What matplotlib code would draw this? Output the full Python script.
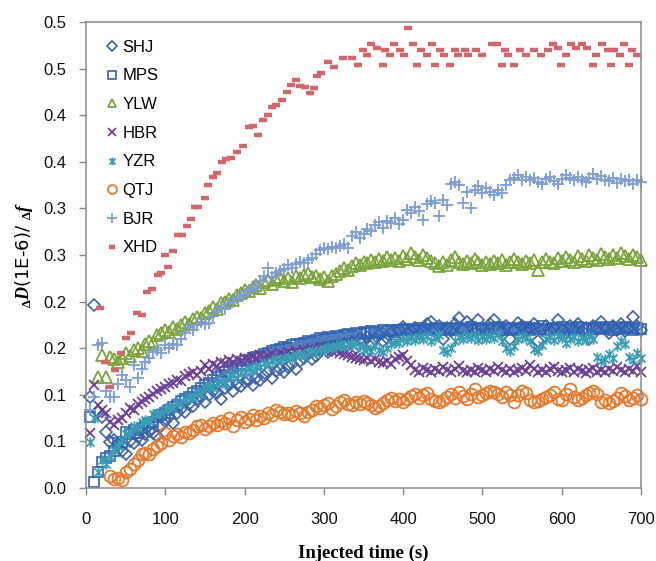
import numpy as np
import matplotlib
matplotlib.use("Agg")
import matplotlib.pyplot as plt
from matplotlib.path import Path

plt.rcParams['mathtext.fontset'] = 'custom'
plt.rcParams['mathtext.rm'] = 'Liberation Serif:bold'
plt.rcParams['mathtext.it'] = 'Liberation Serif:italic:bold'
plt.rcParams['mathtext.bf'] = 'Liberation Serif:bold'

# ---- data: dD/df ratio sampled every 5 s ----
STEP = 5

shj_start = 5
shj = [0.098, 0.196, 0.082, 0.076, 0.060, 0.049, 0.051, 0.047, 0.040, 0.037,
       0.050, 0.048, 0.055, 0.052, 0.058, 0.061, 0.059, 0.056, 0.066, 0.072,
       0.076, 0.070, 0.080, 0.085, 0.082, 0.090, 0.088, 0.094, 0.098, 0.092,
       0.100, 0.104, 0.102, 0.096, 0.107, 0.110, 0.104, 0.112, 0.109, 0.114,
       0.116, 0.111, 0.118, 0.116, 0.120, 0.124, 0.118, 0.126, 0.128, 0.125,
       0.130, 0.133, 0.128, 0.136, 0.140, 0.145, 0.138, 0.142, 0.147, 0.150,
       0.146, 0.148, 0.152, 0.149, 0.155, 0.153, 0.157, 0.150, 0.160, 0.158,
       0.162, 0.156, 0.160, 0.164, 0.158, 0.161, 0.166, 0.160, 0.170, 0.173,
       0.165, 0.168, 0.172, 0.166, 0.170, 0.176, 0.178, 0.170, 0.174, 0.160,
       0.172, 0.168, 0.176, 0.182, 0.170, 0.178, 0.174, 0.168, 0.180, 0.172,
       0.166, 0.176, 0.180, 0.172, 0.168, 0.174, 0.160, 0.170, 0.177, 0.174,
       0.168, 0.172, 0.176, 0.158, 0.170, 0.174, 0.168, 0.172, 0.180, 0.170,
       0.166, 0.174, 0.170, 0.176, 0.168, 0.172, 0.160, 0.174, 0.170, 0.178,
       0.172, 0.166, 0.174, 0.170, 0.176, 0.168, 0.172, 0.183, 0.174, 0.170]

mps_start = 5
mps = [0.076, 0.006, 0.017, 0.028, 0.032, 0.034, 0.040, 0.048, 0.049, 0.060,
       0.058, 0.062, 0.059, 0.064, 0.066, 0.070, 0.071, 0.076, 0.078, 0.080,
       0.084, 0.087, 0.089, 0.093, 0.095, 0.098, 0.102, 0.104, 0.107, 0.111,
       0.113, 0.116, 0.119, 0.121, 0.124, 0.126, 0.129, 0.131, 0.133, 0.136,
       0.137, 0.139, 0.141, 0.142, 0.144, 0.145, 0.147, 0.148, 0.149, 0.151,
       0.150, 0.153, 0.155, 0.154, 0.156, 0.158, 0.157, 0.159, 0.161, 0.160,
       0.162, 0.161, 0.163, 0.162, 0.164, 0.165, 0.163, 0.166, 0.165, 0.167,
       0.166, 0.168, 0.167, 0.166, 0.169, 0.168, 0.170, 0.167, 0.169, 0.170,
       0.171, 0.169, 0.170, 0.172, 0.170, 0.171, 0.169, 0.172, 0.171, 0.170,
       0.172, 0.171, 0.169, 0.172, 0.170, 0.171, 0.173, 0.170, 0.172, 0.171,
       0.170, 0.172, 0.171, 0.173, 0.170, 0.172, 0.171, 0.169, 0.172, 0.171,
       0.173, 0.170, 0.172, 0.171, 0.174, 0.171, 0.170, 0.172, 0.171, 0.173,
       0.170, 0.172, 0.171, 0.173, 0.172, 0.170, 0.172, 0.171, 0.173, 0.172,
       0.171, 0.173, 0.170, 0.172, 0.171, 0.173, 0.172, 0.170, 0.172, 0.171]

ylw_start = 15
ylw = [0.119, 0.143, 0.119, 0.141, 0.138, 0.135, 0.140, 0.145, 0.142, 0.148,
       0.150, 0.147, 0.155, 0.158, 0.157, 0.164, 0.166, 0.170, 0.167, 0.173,
       0.171, 0.175, 0.178, 0.176, 0.181, 0.183, 0.182, 0.188, 0.190, 0.194,
       0.192, 0.198, 0.200, 0.203, 0.202, 0.207, 0.209, 0.212, 0.211, 0.216,
       0.218, 0.215, 0.221, 0.223, 0.219, 0.224, 0.226, 0.222, 0.225, 0.221,
       0.227, 0.225, 0.229, 0.231, 0.226, 0.228, 0.224, 0.226, 0.222, 0.227,
       0.230, 0.233, 0.236, 0.234, 0.238, 0.241, 0.239, 0.243, 0.241, 0.245,
       0.243, 0.246, 0.244, 0.248, 0.245, 0.247, 0.244, 0.249, 0.246, 0.252,
       0.248, 0.245, 0.250, 0.247, 0.244, 0.241, 0.238, 0.242, 0.239, 0.245,
       0.248, 0.243, 0.240, 0.244, 0.241, 0.246, 0.242, 0.239, 0.243, 0.240,
       0.244, 0.241, 0.245, 0.239, 0.242, 0.246, 0.243, 0.240, 0.244, 0.241,
       0.245, 0.234, 0.242, 0.246, 0.243, 0.241, 0.247, 0.244, 0.248, 0.245,
       0.243, 0.249, 0.246, 0.244, 0.250, 0.247, 0.245, 0.251, 0.248, 0.246,
       0.250, 0.247, 0.252, 0.249, 0.246, 0.250, 0.248, 0.245]

hbr_start = 5
hbr = [0.059, 0.110, 0.089, 0.084, 0.080, 0.071, 0.068, 0.073, 0.075, 0.080,
       0.086, 0.084, 0.090, 0.092, 0.096, 0.098, 0.101, 0.104, 0.106, 0.108,
       0.112, 0.113, 0.116, 0.115, 0.120, 0.122, 0.124, 0.121, 0.126, 0.132,
       0.128, 0.133, 0.131, 0.135, 0.134, 0.137, 0.135, 0.138, 0.136, 0.140,
       0.138, 0.141, 0.139, 0.143, 0.140, 0.142, 0.144, 0.141, 0.145, 0.143,
       0.146, 0.144, 0.147, 0.145, 0.148, 0.146, 0.149, 0.147, 0.150, 0.148,
       0.150, 0.147, 0.149, 0.145, 0.144, 0.143, 0.141, 0.140, 0.138, 0.137,
       0.139, 0.136, 0.138, 0.135, 0.134, 0.136, 0.133, 0.138, 0.141, 0.143,
       0.136, 0.132, 0.127, 0.125, 0.129, 0.127, 0.124, 0.128, 0.126, 0.130,
       0.127, 0.125, 0.128, 0.131, 0.126, 0.124, 0.127, 0.125, 0.129, 0.127,
       0.124, 0.128, 0.126, 0.130, 0.127, 0.125, 0.128, 0.124, 0.127, 0.129,
       0.126, 0.132, 0.128, 0.125, 0.127, 0.124, 0.128, 0.130, 0.126, 0.124,
       0.127, 0.129, 0.125, 0.128, 0.126, 0.123, 0.127, 0.129, 0.125, 0.127,
       0.124, 0.128, 0.126, 0.130, 0.127, 0.124, 0.128, 0.126, 0.131, 0.125]

yzr_start = 5
yzr = [0.049, 0.075, 0.017, 0.030, 0.026, 0.034, 0.041, 0.045, 0.052, 0.058,
       0.060, 0.066, 0.064, 0.071, 0.073, 0.072, 0.079, 0.081, 0.080, 0.085,
       0.087, 0.086, 0.092, 0.090, 0.096, 0.098, 0.097, 0.103, 0.101, 0.107,
       0.109, 0.107, 0.113, 0.115, 0.112, 0.119, 0.121, 0.118, 0.125, 0.124,
       0.128, 0.126, 0.131, 0.130, 0.134, 0.133, 0.136, 0.138, 0.137, 0.140,
       0.141, 0.139, 0.143, 0.144, 0.142, 0.146, 0.147, 0.145, 0.148, 0.149,
       0.151, 0.150, 0.152, 0.154, 0.151, 0.155, 0.153, 0.156, 0.152, 0.148,
       0.150, 0.147, 0.152, 0.148, 0.146, 0.150, 0.155, 0.158, 0.156, 0.160,
       0.158, 0.161, 0.159, 0.162, 0.160, 0.163, 0.158, 0.161, 0.164, 0.148,
       0.146, 0.150, 0.158, 0.162, 0.160, 0.163, 0.161, 0.164, 0.159, 0.162,
       0.160, 0.163, 0.161, 0.165, 0.158, 0.150, 0.147, 0.152, 0.160, 0.163,
       0.161, 0.158, 0.149, 0.147, 0.153, 0.160, 0.162, 0.159, 0.163, 0.161,
       0.156, 0.160, 0.162, 0.158, 0.161, 0.159, 0.163, 0.160, 0.141, 0.136,
       0.138, 0.144, 0.140, 0.152, 0.158, 0.155, 0.141, 0.137, 0.145, 0.140]

qtj_start = 30
qtj = [0.013, 0.010, 0.011, 0.009, 0.017, 0.020, 0.026, 0.030, 0.036, 0.038,
       0.036, 0.042, 0.045, 0.048, 0.059, 0.052, 0.056, 0.058, 0.055, 0.060,
       0.059, 0.062, 0.066, 0.068, 0.063, 0.067, 0.070, 0.068, 0.072, 0.070,
       0.075, 0.066, 0.073, 0.076, 0.071, 0.074, 0.078, 0.073, 0.077, 0.075,
       0.080, 0.078, 0.084, 0.082, 0.079, 0.081, 0.078, 0.083, 0.080, 0.077,
       0.082, 0.084, 0.088, 0.086, 0.089, 0.091, 0.085, 0.088, 0.092, 0.094,
       0.090, 0.089, 0.092, 0.090, 0.093, 0.091, 0.089, 0.086, 0.088, 0.091,
       0.094, 0.097, 0.093, 0.095, 0.092, 0.096, 0.099, 0.101, 0.097, 0.100,
       0.102, 0.095, 0.093, 0.092, 0.094, 0.098, 0.101, 0.097, 0.103, 0.099,
       0.096, 0.101, 0.106, 0.098, 0.100, 0.102, 0.104, 0.103, 0.101, 0.098,
       0.103, 0.100, 0.092, 0.100, 0.104, 0.102, 0.094, 0.092, 0.093, 0.095,
       0.098, 0.100, 0.103, 0.096, 0.094, 0.101, 0.106, 0.098, 0.094, 0.097,
       0.100, 0.102, 0.104, 0.101, 0.092, 0.094, 0.091, 0.093, 0.097, 0.102,
       0.099, 0.094, 0.097, 0.100, 0.096]

bjr_start = 5
bjr = [0.084, 0.098, 0.153, 0.156, 0.104, 0.098, 0.098, 0.112, 0.121, 0.116,
       0.108, 0.132, 0.118, 0.128, 0.135, 0.140, 0.146, 0.148, 0.145, 0.153,
       0.150, 0.155, 0.153, 0.160, 0.166, 0.173, 0.170, 0.175, 0.178, 0.176,
       0.177, 0.185, 0.190, 0.194, 0.192, 0.198, 0.200, 0.204, 0.206, 0.208,
       0.212, 0.214, 0.216, 0.222, 0.228, 0.236, 0.226, 0.231, 0.233, 0.235,
       0.239, 0.236, 0.240, 0.243, 0.241, 0.245, 0.247, 0.251, 0.255, 0.258,
       0.256, 0.259, 0.257, 0.260, 0.262, 0.258, 0.270, 0.275, 0.268, 0.273,
       0.278, 0.276, 0.282, 0.285, 0.279, 0.287, 0.284, 0.290, 0.283, 0.288,
       0.298, 0.295, 0.302, 0.297, 0.288, 0.305, 0.308, 0.306, 0.292, 0.309,
       0.304, 0.326, 0.328, 0.325, 0.306, 0.318, 0.300, 0.320, 0.324, 0.316,
       0.322, 0.318, 0.314, 0.320, 0.317, 0.325, 0.330, 0.333, 0.336, 0.331,
       0.334, 0.330, 0.333, 0.328, 0.326, 0.332, 0.334, 0.329, 0.326, 0.332,
       0.336, 0.333, 0.330, 0.334, 0.331, 0.328, 0.333, 0.337, 0.332, 0.335,
       0.331, 0.329, 0.333, 0.327, 0.332, 0.329, 0.331, 0.326, 0.330, 0.328]

# XHD was logged on its own, irregular clock
xhd_time = [18, 24, 30, 37, 44, 51, 57, 64, 70, 77, 83, 91, 95, 100, 103, 110,
            116, 121, 127, 133, 137, 141, 150, 154, 160, 165, 171, 177, 183,
            191, 198, 206, 210, 217, 223, 230, 234, 240, 247, 253, 259, 265,
            270, 276, 282, 288, 291, 297, 305, 313, 324, 335, 343, 349, 355,
            360, 367, 374, 377, 383, 389, 396, 401, 406, 412, 417, 423, 430,
            436, 440, 446, 452, 459, 465, 469, 478, 482, 492, 500, 512, 519,
            525, 528, 532, 540, 547, 555, 565, 574, 583, 589, 595, 599, 605,
            612, 618, 626, 632, 639, 643, 651, 659, 662, 666, 673, 679, 685,
            689, 695]
xhd = [0.193, 0.135, 0.108, 0.127, 0.145, 0.161, 0.166, 0.188, 0.186, 0.210,
       0.214, 0.229, 0.231, 0.250, 0.237, 0.254, 0.271, 0.271, 0.281, 0.289,
       0.301, 0.301, 0.311, 0.325, 0.334, 0.338, 0.350, 0.353, 0.354, 0.361,
       0.367, 0.387, 0.388, 0.379, 0.395, 0.400, 0.409, 0.411, 0.416, 0.425,
       0.432, 0.438, 0.431, 0.430, 0.424, 0.429, 0.442, 0.445, 0.457, 0.452,
       0.461, 0.461, 0.454, 0.470, 0.465, 0.476, 0.472, 0.454, 0.470, 0.465,
       0.476, 0.470, 0.465, 0.494, 0.476, 0.454, 0.470, 0.465, 0.476, 0.454,
       0.470, 0.465, 0.454, 0.470, 0.465, 0.470, 0.465, 0.470, 0.465, 0.476,
       0.476, 0.454, 0.470, 0.465, 0.454, 0.470, 0.465, 0.470, 0.465, 0.470,
       0.476, 0.472, 0.454, 0.465, 0.476, 0.472, 0.476, 0.472, 0.454, 0.465,
       0.476, 0.470, 0.454, 0.470, 0.465, 0.476, 0.454, 0.470, 0.465]

x_ticks = [0, 100, 200, 300, 400, 500, 600, 700]
y_ticks = [0.0, 0.05, 0.10, 0.15, 0.20, 0.25, 0.30, 0.35, 0.40, 0.45, 0.50]
y_tick_labels = ["0.0", "0.1", "0.1", "0.2", "0.2", "0.3", "0.3",
                 "0.4", "0.4", "0.5", "0.5"]


def times(start, values):
    return start + STEP * np.arange(len(values))


# asterisk marker: an X crossed by a vertical bar
asterisk = Path([(-1, -1), (1, 1), (-1, 1), (1, -1), (0, -1.3), (0, 1.3)],
                [Path.MOVETO, Path.LINETO, Path.MOVETO, Path.LINETO,
                 Path.MOVETO, Path.LINETO])

series = [
    ("SHJ", times(shj_start, shj), shj, dict(marker="D", ms=6.3, color="#3f62a8", mew=1.2)),
    ("MPS", times(mps_start, mps), mps, dict(marker="s", ms=7.5, color="#2f63b3", mew=1.2)),
    ("YLW", times(ylw_start, ylw), ylw, dict(marker="^", ms=8.5, color="#7aa43a", mew=1.3)),
    ("HBR", times(hbr_start, hbr), hbr, dict(marker="x", ms=7.5, color="#6b4198", mew=1.3)),
    ("YZR", times(yzr_start, yzr), yzr, dict(marker=asterisk, ms=7.5, color="#3a9db3", mew=1.3)),
    ("QTJ", times(qtj_start, qtj), qtj, dict(marker="o", ms=8.5, color="#e8782a", mew=1.3)),
    ("BJR", times(bjr_start, bjr), bjr, dict(marker="+", ms=9, color="#7c9dd5", mew=1.3)),
    ("XHD", np.array(xhd_time), xhd, dict(marker="_", ms=5.5, color="#d2666a", mew=3.2)),
]

fig = plt.figure(figsize=(6.56, 5.61), dpi=100)
ax = fig.add_axes([86 / 656, 1 - 488 / 561, (641 - 86) / 656, (488 - 22) / 561])

handles = []
for name, t, v, st in series:
    h, = ax.plot(t, v, linestyle="none", marker=st["marker"], markersize=st["ms"],
                 markerfacecolor="none", markeredgecolor=st["color"],
                 markeredgewidth=st["mew"], label=name, clip_on=False)
    handles.append(h)

ax.set_xlim(0, 700)
ax.set_ylim(0, 0.5)
ax.set_xticks(x_ticks)
ax.set_xticklabels([str(x) for x in x_ticks])
ax.set_yticks(y_ticks)
ax.set_yticklabels(y_tick_labels)

for s in ax.spines.values():
    s.set_color("#8a8a8a")
    s.set_linewidth(1.1)

ax.tick_params(direction="out", length=5, width=1.0, color="#8a8a8a",
               labelsize=12, labelcolor="#111111")
ax.tick_params(axis="x", pad=12)
ax.tick_params(axis="y", pad=9)
for lbl in ax.get_xticklabels() + ax.get_yticklabels():
    lbl.set_fontfamily("Liberation Sans")

ax.set_xlabel("Injected time (s)", fontfamily="Liberation Serif",
              fontweight="bold", fontsize=13.5, labelpad=13)
ax.set_ylabel(r"$_{\Delta}\mathit{D}$(1E-6)/ $_{\Delta}\mathit{f}$",
              fontsize=13, labelpad=6)

leg = ax.legend(handles=handles, loc="upper left", bbox_to_anchor=(0.036, 0.962),
                frameon=False, markerscale=0.75, handlelength=0.7,
                handletextpad=0.3, labelspacing=0.82, borderaxespad=0,
                borderpad=0, prop={"family": "Liberation Sans", "size": 12})

fig.savefig("out.png", dpi=100)
